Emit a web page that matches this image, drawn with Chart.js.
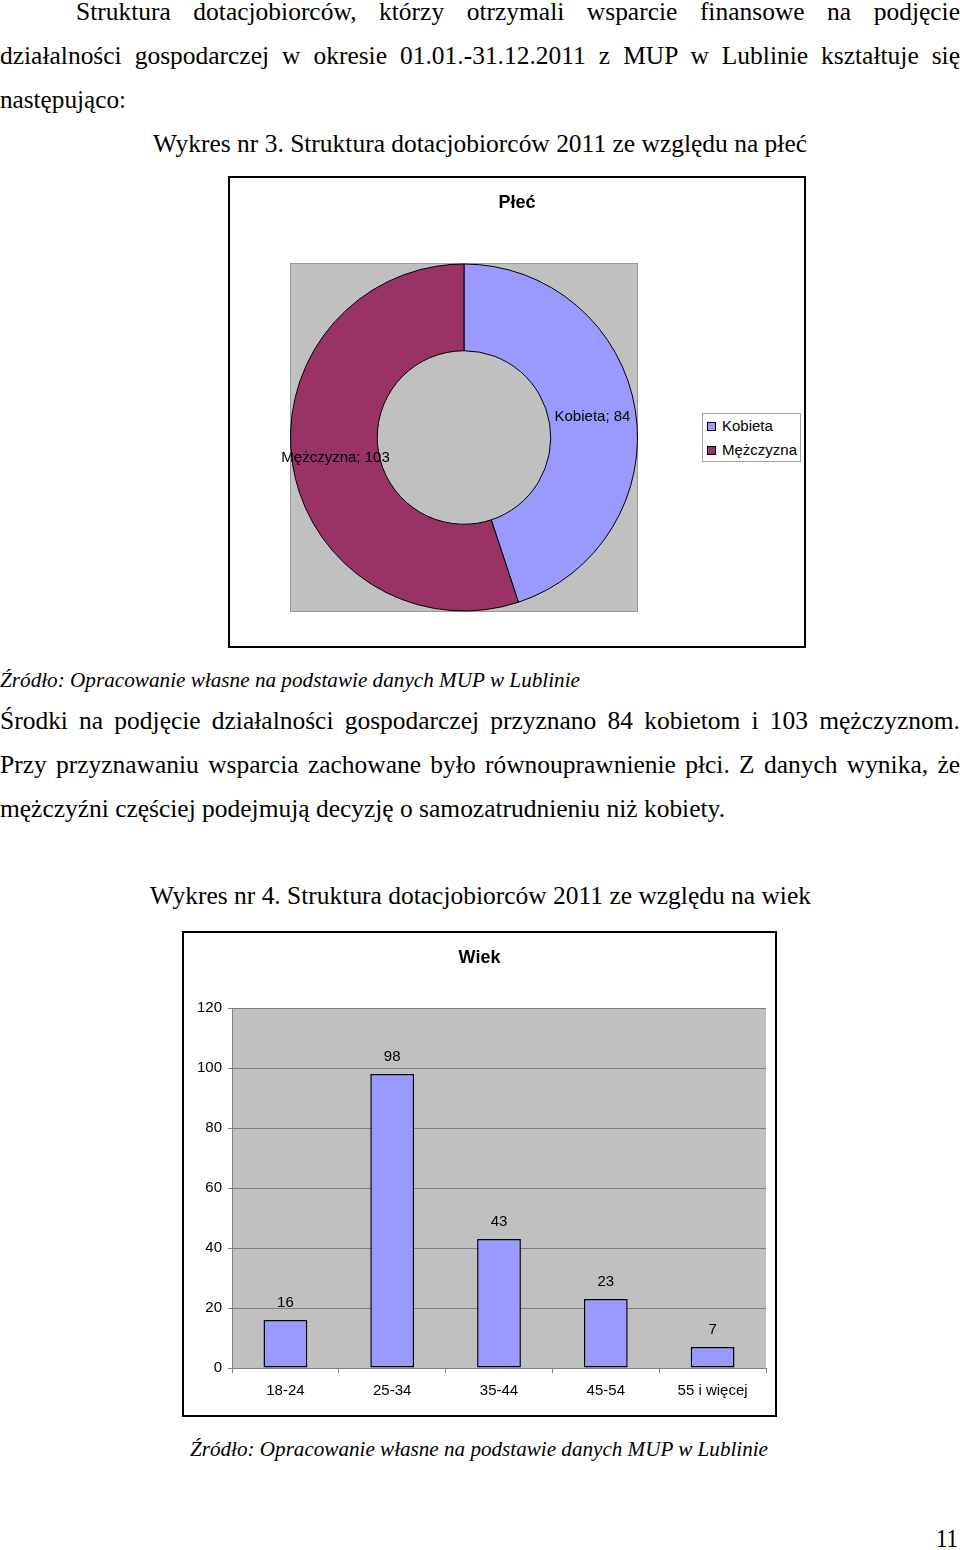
<!DOCTYPE html>
<html><head><meta charset="utf-8">
<script src="https://cdn.jsdelivr.net/npm/chart.js@4.4.1/dist/chart.umd.min.js"></script>
<style>
html,body{margin:0;padding:0;background:#fff}
body{width:960px;height:1550px;position:relative;overflow:hidden;font-family:"Liberation Serif","Times New Roman",serif;color:#000}
.t{position:absolute;white-space:nowrap;transform-origin:0 0}
.box{position:absolute;border:2px solid #000;box-sizing:border-box;background:#fff}
.box canvas{position:absolute;left:0;top:0}
#legend{position:absolute;left:702px;top:413px;width:99px;height:49px;border:1px solid #a0a0a0;box-sizing:border-box;background:#fff;font-family:"Liberation Sans",Arial,sans-serif;font-size:15px}
#legend .it{position:absolute;left:4px;height:18px;line-height:18px;white-space:nowrap}
#legend .sw{display:inline-block;width:9px;height:9px;border:1px solid #000;box-sizing:border-box;margin-right:6px;vertical-align:0px}
</style></head><body>

<div class="box" style="left:228px;top:176px;width:578px;height:472px"><canvas id="pie" width="574" height="468"></canvas></div>
<div id="legend"></div>
<div class="box" style="left:182px;top:931px;width:595px;height:486px"><canvas id="bar" width="591" height="482"></canvas></div>

<script>
// ---- data ----
const genderLabels = ['Kobieta', 'Mężczyzna'];
const genderValues = [84, 103];
const genderColors = ['#9999FF', '#993366'];

const ageLabels = ['18-24', '25-34', '35-44', '45-54', '55 i więcej'];
const ageValues = [16, 98, 43, 23, 7];
const ageAxisMin = 0, ageAxisMax = 120, ageAxisStep = 20;

const pieTitle = 'Płeć';
const barTitle = 'Wiek';

// ---- page text (text, baseline, left, width, mode, size, italic) ----
const textLines = [
  ['Wykres nr 3. Struktura dotacjobiorców 2011 ze względu na płeć', 151.5, 153, 654, 'fit', 25, false],
  ['Struktura dotacjobiorców, którzy otrzymali wsparcie finansowe na podjęcie', 19.5, 76, 884, 'justify', 25, false],
  ['działalności gospodarczej w okresie 01.01.-31.12.2011 z MUP w Lublinie kształtuje się', 63.5, 0, 960, 'justify', 25, false],
  ['następująco:', 107.5, 0, 126, 'fit', 25, false],
  ['Źródło: Opracowanie własne na podstawie danych MUP w Lublinie', 688, 0, 580, 'fit', 21, true],
  ['Środki na podjęcie działalności gospodarczej przyznano 84 kobietom i 103 mężczyznom.', 728.5, 0, 960, 'justify', 25, false],
  ['Przy przyznawaniu wsparcia zachowane było równouprawnienie płci. Z danych wynika, że', 772.5, 0, 960, 'justify', 25, false],
  ['mężczyźni częściej podejmują decyzję o samozatrudnieniu niż kobiety.', 816.5, 0, 725, 'fit', 25, false],
  ['Wykres nr 4. Struktura dotacjobiorców 2011 ze względu na wiek', 903.5, 150, 661, 'fit', 25, false],
  ['Źródło: Opracowanie własne na podstawie danych MUP w Lublinie', 1457, 190, 578, 'fit', 21, true],
  ['11', 1547, 936, 22, 'fit', 25, false]
];

let bodyScale = 1;
textLines.forEach(([txt, base, left, width, mode, size, italic], idx) => {
  const s = document.createElement('div');
  s.className = 't';
  s.textContent = txt;
  s.style.fontSize = size + 'px';
  s.style.lineHeight = size + 'px';
  s.style.fontStyle = italic ? 'italic' : 'normal';
  s.style.left = left + 'px';
  s.style.top = (base - 0.8375 * size) + 'px';
  document.body.appendChild(s);
  const nat = s.getBoundingClientRect().width;
  if (mode === 'fit') {
    const k = width / nat;
    if (idx === 0) bodyScale = k;
    s.style.transform = 'scaleX(' + k + ')';
  } else {
    const sc = bodyScale;
    const spaces = (txt.match(/ /g) || []).length;
    const extra = (width / sc - nat) / spaces;
    s.style.wordSpacing = extra + 'px';
    s.style.transform = 'scaleX(' + sc + ')';
  }
});

// ---- legend ----
const leg = document.getElementById('legend');
genderLabels.forEach((l, i) => {
  const d = document.createElement('div');
  d.className = 'it';
  d.style.top = (3 + i * 24) + 'px';
  d.innerHTML = '<span class="sw" style="background:' + genderColors[i] + '"></span>' + l;
  leg.appendChild(d);
});

// ---- charts ----
const SANS = '"Liberation Sans", Arial, sans-serif';
Chart.defaults.font.family = SANS;
Chart.defaults.color = '#000';

const boxTitle = {
  id: 'boxTitle',
  afterDraw(chart, args, opts) {
    const c = chart.ctx;
    c.save();
    c.font = 'bold 18px ' + SANS;
    c.fillStyle = '#000';
    c.textAlign = 'center';
    c.textBaseline = 'middle';
    c.fillText(opts.text, chart.width / 2, opts.y);
    c.restore();
  }
};

const plotBg = {
  id: 'plotBg',
  beforeDatasetsDraw(chart) {
    const a = chart.chartArea, c = chart.ctx;
    c.save();
    c.fillStyle = '#C0C0C0';
    c.fillRect(a.left, a.top, a.right - a.left, a.bottom - a.top);
    c.strokeStyle = '#9a9a9a';
    c.lineWidth = 1;
    c.strokeRect(a.left + 0.5, a.top + 0.5, a.right - a.left - 1, a.bottom - a.top - 1);
    c.restore();
  }
};
const barBg = {
  id: 'barBg',
  beforeDraw(chart) {
    const a = chart.chartArea, c = chart.ctx;
    c.save();
    c.fillStyle = '#C0C0C0';
    c.fillRect(a.left, a.top, a.right - a.left, a.bottom - a.top);
    c.restore();
  }
};

const arcLabels = {
  id: 'arcLabels',
  afterDatasetsDraw(chart) {
    const c = chart.ctx;
    const meta = chart.getDatasetMeta(0);
    c.save();
    c.font = '15px ' + SANS;
    c.fillStyle = '#000';
    c.textAlign = 'center';
    c.textBaseline = 'middle';
    meta.data.forEach((arc, i) => {
      const p = arc.tooltipPosition();
      c.fillText(chart.data.labels[i] + '; ' + chart.data.datasets[0].data[i], p.x, p.y);
    });
    c.restore();
  }
};

const barLabels = {
  id: 'barLabels',
  afterDatasetsDraw(chart) {
    const c = chart.ctx;
    const meta = chart.getDatasetMeta(0);
    c.save();
    c.font = '15px ' + SANS;
    c.fillStyle = '#000';
    c.textAlign = 'center';
    c.textBaseline = 'middle';
    meta.data.forEach((bar, i) => {
      c.fillText(String(chart.data.datasets[0].data[i]), bar.x, bar.y - 17);
    });
    c.restore();
  }
};

new Chart(document.getElementById('pie'), {
  type: 'doughnut',
  data: {
    labels: genderLabels,
    datasets: [{ data: genderValues, backgroundColor: genderColors, borderColor: '#000', borderWidth: 1 }]
  },
  options: {
    responsive: false,
    animation: false,
    cutout: '50%',
    layout: { padding: { left: 60, right: 166, top: 85, bottom: 34 } },
    plugins: {
      legend: { display: false },
      tooltip: { enabled: false },
      title: { display: false },
      boxTitle: { text: pieTitle, y: 25 }
    }
  },
  plugins: [plotBg, arcLabels, boxTitle]
});

new Chart(document.getElementById('bar'), {
  type: 'bar',
  data: {
    labels: ageLabels,
    datasets: [{
      data: ageValues, backgroundColor: '#9999FF', borderColor: '#000', borderWidth: 1.5,
      borderSkipped: false, categoryPercentage: 1, barPercentage: 0.41
    }]
  },
  options: {
    responsive: false,
    animation: false,
    layout: { padding: { left: 0, right: 9, top: 75, bottom: 0 } },
    plugins: {
      legend: { display: false },
      tooltip: { enabled: false },
      title: { display: false },
      boxTitle: { text: barTitle, y: 25 }
    },
    scales: {
      x: {
        grid: { display: true, drawOnChartArea: false, drawTicks: true, tickLength: 5, color: '#808080', offset: true },
        border: { color: '#808080', width: 1 },
        ticks: { color: '#000', font: { size: 15 }, padding: 9, maxRotation: 0, autoSkip: false },
        afterFit(s) { s.height = 47; }
      },
      y: {
        min: ageAxisMin, max: ageAxisMax,
        ticks: { stepSize: ageAxisStep, color: '#000', font: { size: 15 }, padding: 6 },
        grid: { color: '#808080', tickLength: 4 },
        border: { color: '#808080', width: 1 },
        afterFit(s) { s.width = 48; }
      }
    }
  },
  plugins: [barBg, barLabels, boxTitle]
});
</script>
</body></html>
